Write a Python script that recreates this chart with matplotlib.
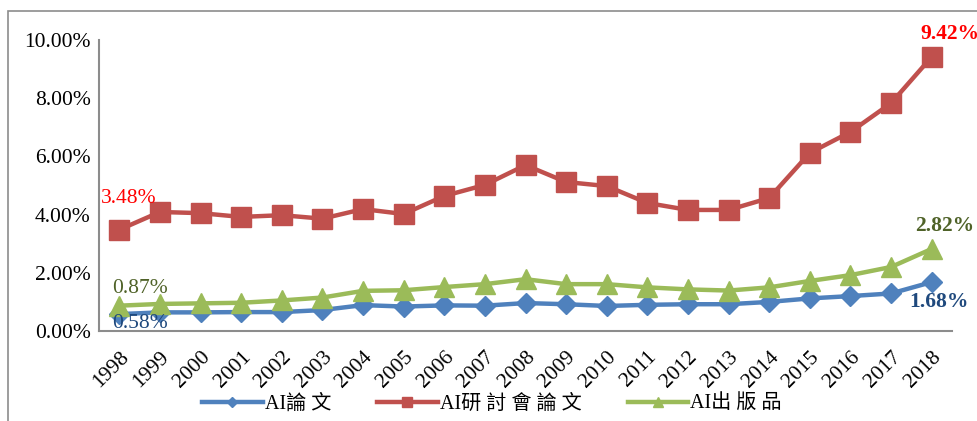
import matplotlib
matplotlib.use("Agg")
import matplotlib.pyplot as plt
from matplotlib.ticker import FuncFormatter
from matplotlib.patches import Rectangle

years = [str(y) for y in range(1998, 2019)]
ai_papers = [0.58, 0.64, 0.64, 0.65, 0.65, 0.72, 0.89, 0.84, 0.88, 0.87, 0.96,
             0.92, 0.86, 0.90, 0.92, 0.92, 1.00, 1.12, 1.20, 1.29, 1.68]
ai_conf = [3.48, 4.09, 4.05, 3.92, 3.98, 3.86, 4.19, 4.02, 4.64, 5.02, 5.70,
           5.12, 4.98, 4.40, 4.16, 4.16, 4.57, 6.12, 6.84, 7.83, 9.42]
ai_pubs = [0.87, 0.93, 0.95, 0.97, 1.05, 1.15, 1.38, 1.40, 1.51, 1.61, 1.78,
           1.61, 1.61, 1.50, 1.43, 1.39, 1.50, 1.72, 1.92, 2.20, 2.82]
series_names = ["AI論 文", "AI研 討 會 論 文", "AI出 版 品"]

serif = ["Liberation Serif", "Noto Sans CJK TC"]
plt.rcParams["font.family"] = serif

fig = plt.figure(figsize=(9.78, 4.21), dpi=100)
fig.patches.append(Rectangle((8 / 978, -0.1), 1.2, (421 - 11) / 421 + 0.1,
                             transform=fig.transFigure, fill=False,
                             edgecolor="#8c8c8c", linewidth=1.2))
ax = fig.add_axes([99 / 978, 1 - 331 / 421, (952 - 99) / 978, (331 - 40) / 421])

x = range(len(years))
blue, red, green = "#4F81BD", "#C0504D", "#9BBB59"
l1, = ax.plot(x, ai_papers, color=blue, lw=3.2, marker="D", ms=10,
              label=series_names[0])
l2, = ax.plot(x, ai_conf, color=red, lw=3.2, marker="s", ms=14,
              label=series_names[1])
l3, = ax.plot(x, ai_pubs, color=green, lw=3.2, marker="^", ms=14,
              label=series_names[2])

ax.set_xlim(-0.5, len(years) - 0.5)
ax.set_ylim(0, 10)
ax.set_yticks([0, 2, 4, 6, 8, 10])
ax.yaxis.set_major_formatter(FuncFormatter(lambda v, p: f"{v:.2f}%"))
ax.set_xticks(list(x))
ax.set_xticklabels(years, rotation=45, ha="right", rotation_mode="anchor")
ax.tick_params(length=0, labelsize=15.5, pad=6)
ax.tick_params(axis="x", pad=12)
for s in ["top", "right"]:
    ax.spines[s].set_visible(False)
for s in ["left", "bottom"]:
    ax.spines[s].set_color("#8c8c8c")
    ax.spines[s].set_linewidth(1.5)

# value labels at the first and last year
dkblue, dkgreen = "#1F497D", "#4F6228"
fs = 15.5
ax.annotate(f"{ai_conf[0]:.2f}%", (0, ai_conf[0]), xytext=(-13, 19),
            textcoords="offset points", color="#FF0000", fontsize=fs)
ax.annotate(f"{ai_pubs[0]:.2f}%", (0, ai_pubs[0]), xytext=(-5, 9),
            textcoords="offset points", color=dkgreen, fontsize=fs)
ax.annotate(f"{ai_papers[0]:.2f}%", (0, ai_papers[0]), xytext=(-5, -10),
            textcoords="offset points", color=dkblue, fontsize=fs)
last = len(years) - 1
ax.annotate(f"{ai_conf[-1]:.2f}%", (last, ai_conf[-1]), xytext=(-8, 13),
            textcoords="offset points", color="#FF0000", fontsize=fs,
            fontweight="bold")
ax.annotate(f"{ai_pubs[-1]:.2f}%", (last, ai_pubs[-1]), xytext=(-12, 13),
            textcoords="offset points", color=dkgreen, fontsize=fs,
            fontweight="bold")
ax.annotate(f"{ai_papers[-1]:.2f}%", (last, ai_papers[-1]), xytext=(-16, -18),
            textcoords="offset points", color=dkblue, fontsize=fs,
            fontweight="bold")

fig.legend(handles=[l1, l2, l3], loc="center", bbox_to_anchor=(0.503, 1 - 404 / 421),
           ncol=3, frameon=False, fontsize=14.5, handlelength=3.0,
           columnspacing=2.3, handletextpad=0.1, markerscale=0.55)

fig.savefig("out.png", dpi=100)
